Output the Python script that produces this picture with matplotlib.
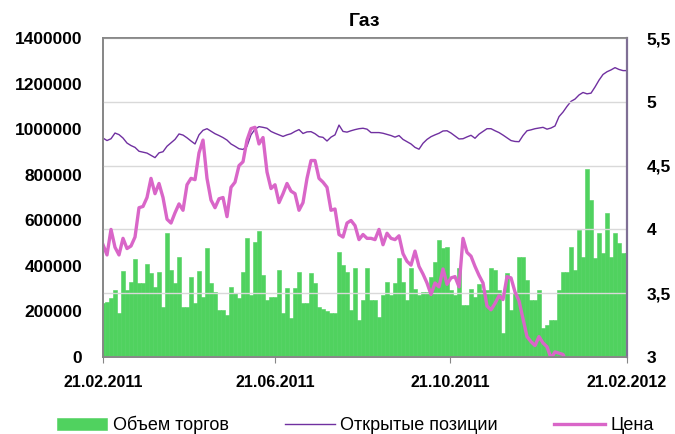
import numpy as np
import pandas as pd
import matplotlib
matplotlib.use('Agg')
from matplotlib import pyplot as plt
import matplotlib.dates as mdates
from matplotlib.ticker import FuncFormatter, FixedLocator

plt.rcParams['font.family'] = ['Liberation Sans', 'DejaVu Sans']

# volume, thousands of contracts
volume = [237, 240, 259, 294, 193, 377, 294, 330, 430, 325,
          325, 408, 369, 307, 373, 219, 544, 382, 325, 439,
          219, 219, 351, 237, 377, 263, 478, 325, 285, 206,
          206, 184, 307, 281, 260, 373, 522, 272, 505, 553,
          360, 250, 263, 263, 382, 193, 303, 171, 303, 373,
          237, 237, 369, 325, 219, 210, 200, 193, 193, 461,
          404, 373, 206, 390, 162, 250, 390, 250, 250, 176,
          272, 329, 272, 325, 434, 329, 250, 390, 300, 272,
          285, 285, 351, 417, 513, 478, 483, 294, 272, 390,
          228, 228, 300, 263, 320, 294, 294, 390, 382, 294,
          105, 369, 206, 281, 439, 439, 338, 250, 250, 294,
          127, 140, 162, 162, 294, 373, 373, 483, 382, 557,
          439, 825, 689, 434, 544, 456, 632, 439, 544, 500,
          456, 456]

# open interest, thousands
open_pos = [961, 950, 958, 983, 976, 961, 939, 928, 920, 903,
            899, 895, 885, 875, 896, 901, 925, 940, 955, 979,
            974, 962, 948, 935, 975, 995, 1002, 991, 980, 972,
            963, 952, 935, 925, 914, 911, 925, 975, 1000, 1011,
            1008, 1004, 990, 982, 975, 968, 975, 980, 990, 998,
            981, 988, 989, 980, 967, 964, 948, 965, 975, 1018,
            990, 987, 993, 998, 1002, 1004, 1000, 985, 985, 985,
            982, 977, 972, 965, 972, 955, 945, 935, 920, 912,
            938, 955, 967, 975, 982, 992, 993, 983, 970, 957,
            958, 966, 973, 960, 978, 990, 1002, 1002, 993, 985,
            974, 962, 950, 946, 945, 972, 993, 997, 1002, 1005,
            1008, 1000, 1005, 1014, 1055, 1075, 1100, 1122, 1132, 1150,
            1161, 1155, 1158, 1185, 1215, 1240, 1252, 1260, 1270, 1262,
            1257, 1257]

price = [3.88, 3.80, 4.00, 3.86, 3.80, 3.93, 3.85, 3.87, 3.94, 4.17,
         4.18, 4.25, 4.40, 4.28, 4.36, 4.25, 4.08, 4.05, 4.13, 4.20,
         4.15, 4.35, 4.40, 4.39, 4.60, 4.70, 4.40, 4.23, 4.17, 4.24,
         4.25, 4.10, 4.33, 4.37, 4.50, 4.53, 4.70, 4.79, 4.80, 4.67,
         4.72, 4.45, 4.32, 4.35, 4.21, 4.28, 4.36, 4.30, 4.28, 4.15,
         4.21, 4.40, 4.54, 4.54, 4.40, 4.37, 4.33, 4.15, 4.16, 3.96,
         3.94, 4.05, 4.07, 4.03, 3.92, 3.96, 3.93, 3.93, 3.92, 4.00,
         3.88, 3.97, 3.93, 3.92, 3.95, 3.81, 3.75, 3.72, 3.83, 3.71,
         3.65, 3.58, 3.49, 3.58, 3.55, 3.69, 3.57, 3.62, 3.63, 3.55,
         3.93, 3.82, 3.79, 3.71, 3.64, 3.58, 3.40, 3.37, 3.42, 3.48,
         3.45, 3.63, 3.62, 3.51, 3.44, 3.30, 3.16, 3.12, 3.09, 3.16,
         3.11, 3.08, 2.99, 3.04, 3.03, 3.02, 2.95, 2.90, 2.85, 2.80,
         2.75, 2.70, 2.65, 2.60, 2.55, 2.60, 2.55, 2.50, 2.55, 2.60,
         2.60, 2.55]

start, end = '2011-02-21', '2012-02-21'
tick_dates = ['2011-02-21', '2011-06-21', '2011-10-21', '2012-02-21']

dates = pd.date_range(start, end, periods=len(volume))
step = (dates[1] - dates[0]).total_seconds() / 86400.0

vol = np.array(volume) * 1000
oi = np.array(open_pos) * 1000

fig = plt.figure(figsize=(6.75, 4.34), dpi=100)
ax = fig.add_axes([0.1526, 0.1774, 0.7763, 0.735])
ax2 = ax.twinx()

bars = ax.bar(dates, vol, width=step, color='#50D25F', edgecolor='#50D25F', linewidth=0.4,
              label='Объем торгов', zorder=1)
l_oi, = ax.plot(dates, oi, color='#7030A0', linewidth=1.0, label='Открытые позиции', zorder=2)
l_pr, = ax2.plot(dates, price, color='#D966C8', linewidth=2.4, label='Цена',
                 solid_joinstyle='round')

ax.set_xlim(pd.Timestamp(start), pd.Timestamp(end))
ax.set_ylim(0, 1400000)
ax2.set_ylim(3, 5.5)

ax.set_yticks(np.arange(0, 1400001, 200000))
ax.yaxis.set_major_formatter(FuncFormatter(lambda v, p: '%d' % v))
ax2.set_yticks([3, 3.5, 4, 4.5, 5, 5.5])
ax2.yaxis.set_major_formatter(FuncFormatter(lambda v, p: ('%g' % v).replace('.', ',')))

ax.xaxis.set_major_locator(FixedLocator(mdates.date2num(pd.to_datetime(tick_dates))))
ax.xaxis.set_major_formatter(mdates.DateFormatter('%d.%m.%Y'))

ax2.grid(axis='y', color='#D9D9D9', linewidth=1.0)
ax.grid(False)

for a in (ax, ax2):
    for s in a.spines.values():
        s.set_color('#868686')
        s.set_linewidth(1.2)
ax2.spines['right'].set_color('#7F6F95')
ax2.spines['right'].set_linewidth(1.6)

ax.tick_params(axis='y', length=0, pad=15, labelsize=12.5)
ax2.tick_params(axis='y', length=0, pad=14, labelsize=12.5)
ax.tick_params(axis='x', direction='out', length=4, color='#868686', pad=9, labelsize=11.5)
for lbl in ax.get_yticklabels() + ax2.get_yticklabels() + ax.get_xticklabels():
    lbl.set_fontweight('bold')

fig.text(365 / 675, 1 - 22 / 434, 'Газ', ha='center', va='center',
         fontsize=14, fontweight='bold')

fig.legend([bars, l_oi, l_pr], ['Объем торгов', 'Открытые позиции', 'Цена'],
           loc='center', bbox_to_anchor=(355 / 675, 1 - 425 / 434),
           ncol=3, frameon=False, fontsize=13, handlelength=2.8, handletextpad=0.3,
           columnspacing=3.1)

fig.savefig('out.png', dpi=100)
